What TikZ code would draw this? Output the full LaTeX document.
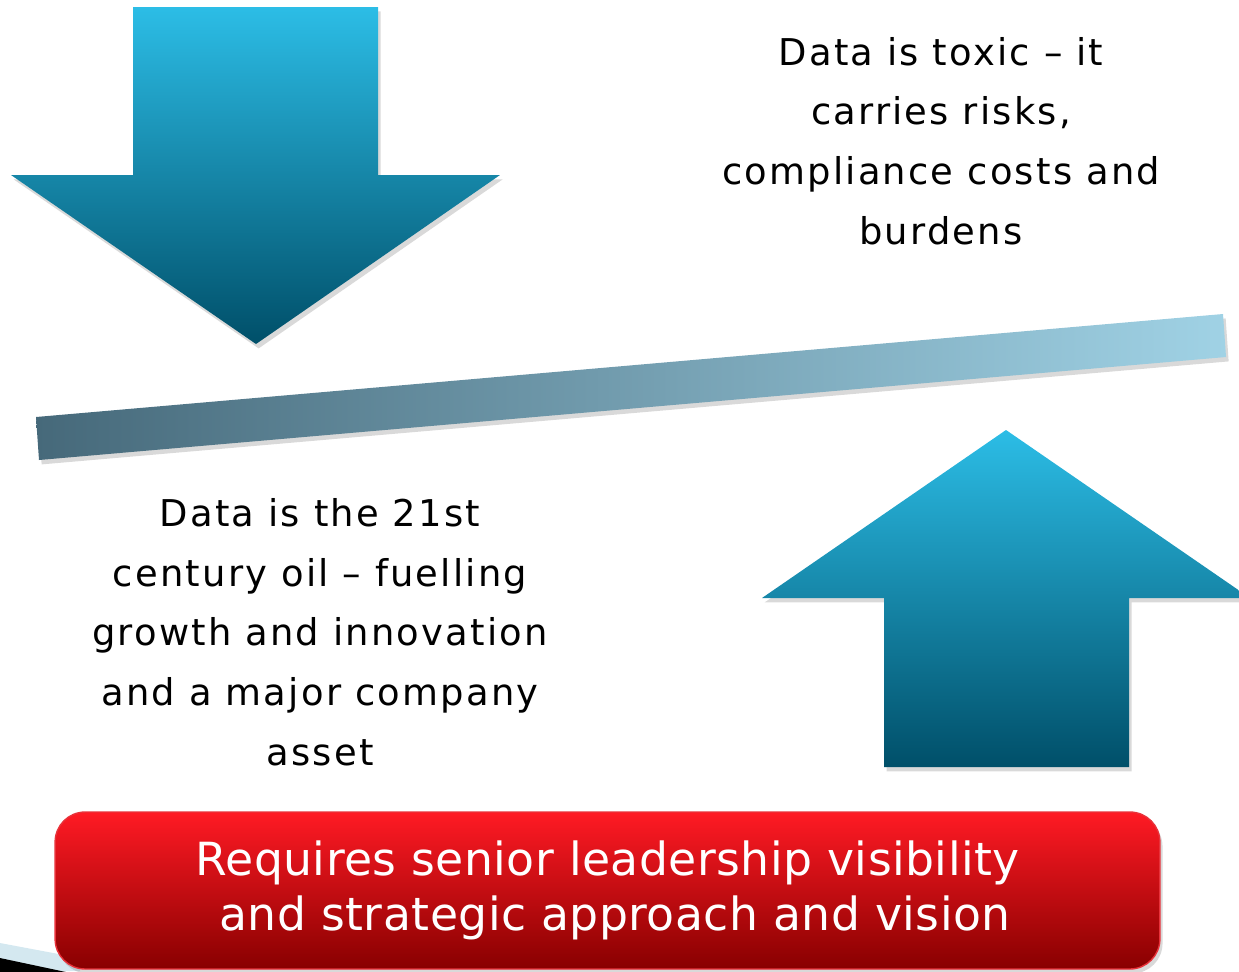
\documentclass[tikz,border=0pt]{standalone}
\usepackage{fontspec}
\setsansfont{DejaVu Sans}
\newfontfamily\claimfont[LetterSpace=6]{DejaVu Sans}
\newfontfamily\boxfont[LetterSpace=1]{DejaVu Sans}
\usetikzlibrary{calc,positioning,shadows}

\definecolor{arrowtop}{HTML}{2CBDE6}
\definecolor{arrowbot}{HTML}{004F69}
\definecolor{barleft}{HTML}{46697A}
\definecolor{barright}{HTML}{A0D2E5}
\definecolor{boxtop}{HTML}{FF1A24}
\definecolor{boxbot}{HTML}{880000}
\definecolor{boxedge}{HTML}{E8323A}
\definecolor{bandblue}{HTML}{D4E8F0}

\tikzset{
  softshadow/.style={drop shadow={opacity=0.3, shadow xshift=1.5pt, shadow yshift=-2.5pt}},
  bluearrow/.style={top color=arrowtop, bottom color=arrowbot, softshadow},
  seesaw/.style={left color=barleft, right color=barright, softshadow},
  claim/.style={align=center, font=\claimfont\fontsize{21}{34}\selectfont},
  redbox/.style={rounded corners=0.6cm, top color=boxtop, bottom color=boxbot,
    draw=boxedge, line width=0.8pt, softshadow, text=white, align=center,
    font=\boxfont\fontsize{26}{31}\selectfont}
}

\begin{document}
\begin{tikzpicture}[x=0.02cm, y=-0.02cm, font=\sffamily]
    \useasboundingbox (0,0) rectangle (1239,971);
    \clip (0,0) rectangle (1239,971);

    % slide band in the corner
    \fill[bandblue] (0,943) -- (80,958) -- (80,971) -- (0,971) -- cycle;
    \fill[black] (0,958) -- (80,975) -- (0,975) -- cycle;

    % Downward arrow (left)
    \path[bluearrow] (133,7) -- (378,7) -- (378,175) -- (500,175)
        -- (256,344) -- (11,175) -- (133,175) -- cycle;

    % Upward arrow (right)
    \path[bluearrow] (1006,430) -- (1250,598) -- (1129,598) -- (1129,767)
        -- (884,767) -- (884,598) -- (762,598) -- cycle;

    % Tilted balance bar
    \coordinate (BarLT) at (36,417);
    \coordinate (BarRT) at (1223,314);
    \coordinate (BarRB) at (1226,357);
    \coordinate (BarLB) at (39,460);
    \path[seesaw] (BarLT) -- (BarRT) -- (BarRB) -- (BarLB) -- cycle;

    % Statements
    \node[claim] (toxic) at (941,141) {Data is toxic – it\\carries risks,\\compliance costs and\\burdens};
    \node[claim] (oil) at (320,632) {Data is the 21st\\century oil – fuelling\\growth and innovation\\and a major company\\asset};

    % Conclusion box
    \node[redbox, minimum width=22.1cm, minimum height=3.14cm] (vision) at (607.5,890.5)
        {Requires senior leadership visibility\\\ and strategic approach and vision};
\end{tikzpicture}
\end{document}
